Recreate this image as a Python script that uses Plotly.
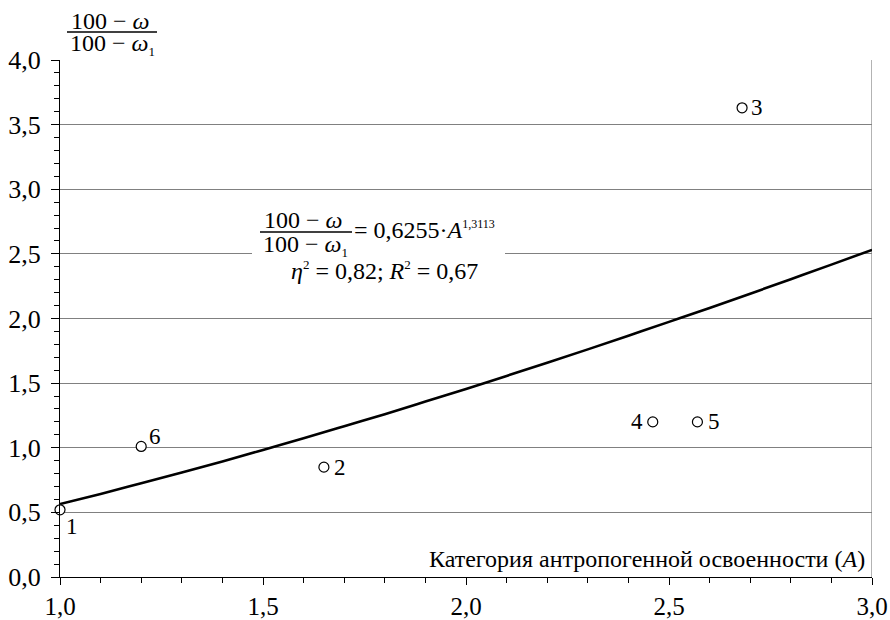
import plotly.graph_objects as go

# ---- data ----
pt_x = [1.00, 1.65, 2.68, 2.46, 2.57, 1.20]
pt_y = [0.52, 0.85, 3.63, 1.20, 1.20, 1.01]
pt_labels = ["1", "2", "3", "4", "5", "6"]

curve_x = [1.0, 1.1, 1.2, 1.3, 1.4, 1.5, 1.6, 1.7, 1.8, 1.9, 2.0,
           2.1, 2.2, 2.3, 2.4, 2.5, 2.6, 2.7, 2.8, 2.9, 3.0]
curve_y = [0.565, 0.643, 0.725, 0.808, 0.894, 0.983, 1.073, 1.166, 1.260, 1.357, 1.455,
           1.556, 1.657, 1.761, 1.867, 1.974, 2.082, 2.192, 2.304, 2.417, 2.531]

y_ticks = [0.0, 0.5, 1.0, 1.5, 2.0, 2.5, 3.0, 3.5, 4.0]
x_ticks = [1.0, 1.5, 2.0, 2.5, 3.0]

# label offsets (pixels) relative to each marker
label_dx = [12, 16, 15, -16, 17, 14]
label_dy = [-17, 0, 0, 0, 0, 10]

FONT = "Times New Roman"
W, H = 890, 620
L, R, T, B = 60, 872, 60, 577  # plot area in pixels


def px(xp):
    return (xp - L) / (R - L)


def py(yp):
    return (B - yp) / (B - T)


fig = go.Figure()

fig.add_trace(go.Scatter(
    x=curve_x, y=curve_y, mode="lines", line=dict(color="black", width=2.6, shape="spline"),
    hoverinfo="skip", showlegend=False, cliponaxis=False))

fig.add_trace(go.Scatter(
    x=pt_x, y=pt_y, mode="markers",
    marker=dict(symbol="circle", size=10, color="white", line=dict(color="black", width=1.2)),
    showlegend=False, cliponaxis=False))

shapes = []
# right border
shapes.append(dict(type="line", xref="x", yref="y", x0=3, x1=3, y0=0, y1=4,
                   line=dict(color="#808080", width=1.2), layer="below"))
# white gap behind equation
shapes.append(dict(type="rect", xref="paper", yref="paper",
                   x0=px(252), x1=px(505), y0=py(262), y1=py(248),
                   fillcolor="white", line=dict(width=0), layer="above"))
# fraction bars
shapes.append(dict(type="line", xref="paper", yref="paper", x0=px(67), x1=px(157),
                   y0=py(32), y1=py(32), line=dict(color="black", width=1.3)))
shapes.append(dict(type="line", xref="paper", yref="paper", x0=px(260), x1=px(352),
                   y0=py(232), y1=py(232), line=dict(color="black", width=1.3)))

SUB = "<sub><span style='font-size:13px'>1</span></sub>"
SUP2 = "<sup><span style='font-size:13px'>2</span></sup>"
ann_font = dict(family=FONT, size=24, color="black")
annotations = [
    # y-axis title fraction
    dict(text="100 − <i>ω</i>", x=px(110), y=py(21), xanchor="center", yanchor="middle"),
    dict(text="100 − <i>ω</i>" + SUB, x=px(112), y=py(45), xanchor="center", yanchor="middle"),
    # equation
    dict(text="100 − <i>ω</i>", x=px(303), y=py(220), xanchor="center", yanchor="middle"),
    dict(text="100 − <i>ω</i>" + SUB, x=px(305), y=py(245), xanchor="center", yanchor="middle"),
    dict(text="= 0,6255·<i>A</i><sup><span style='font-size:12px'>1,3113</span></sup>",
         x=px(352), y=py(230), xanchor="left", yanchor="middle"),
    dict(text="<i>η</i>" + SUP2 + " = 0,82; <i>R</i>" + SUP2 + " = 0,67", x=px(384), y=py(270),
         xanchor="center", yanchor="middle"),
    # x-axis title
    dict(text="Категория антропогенной освоенности (<i>A</i>)", x=px(867), y=py(559),
         xanchor="right", yanchor="middle"),
]
for a in annotations:
    a.update(xref="paper", yref="paper", showarrow=False, font=ann_font)

# point labels
for xv, yv, lab, dx, dy in zip(pt_x, pt_y, pt_labels, label_dx, label_dy):
    annotations.append(dict(text=lab, x=xv, y=yv, xref="x", yref="y", showarrow=False,
                            xshift=dx, yshift=dy, xanchor="center", yanchor="middle",
                            font=dict(family=FONT, size=23, color="black")))

fig.update_layout(
    width=W, height=H,
    margin=dict(l=L, r=W - R, t=T, b=H - B, autoexpand=False),
    paper_bgcolor="white", plot_bgcolor="white",
    separators=", ",
    font=dict(family=FONT, size=24, color="black"),
    shapes=shapes, annotations=annotations,
    xaxis=dict(range=[1, 3], tickvals=x_ticks, tickformat=".1f", showgrid=False, zeroline=False,
               showline=True, linecolor="black", linewidth=1.2,
               ticks="outside", ticklen=7, tickcolor="black", ticklabelstandoff=0,
               minor=dict(dtick=0.1, ticks="outside", ticklen=5, tickcolor="black", showgrid=False),
               tickfont=dict(family=FONT, size=25, color="black"), automargin=False),
    yaxis=dict(range=[0, 4], tickvals=y_ticks, tickformat=".1f", showgrid=True,
               gridcolor="#808080", gridwidth=1.2, zeroline=False,
               showline=True, linecolor="black", linewidth=1.2,
               ticks="outside", ticklen=8, tickcolor="black", ticklabelstandoff=5,
               minor=dict(dtick=0.1, ticks="outside", ticklen=5, tickcolor="black", showgrid=False),
               tickfont=dict(family=FONT, size=26, color="black"), automargin=False),
)

fig.write_html("out.html", config={"displayModeBar": False},
               post_script="document.body.style.margin='0';")
